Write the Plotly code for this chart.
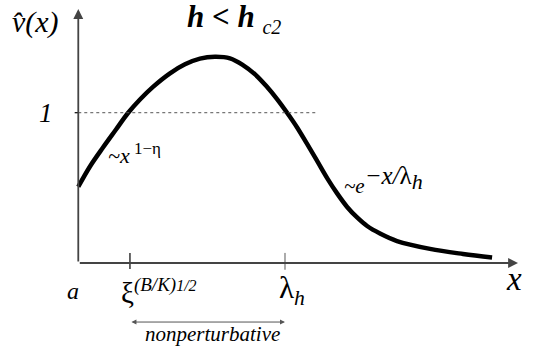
import plotly.graph_objects as go

# Profile of v̂(x): rises like x^(1-eta), peaks, then decays like exp(-x/lambda_h)
curve_x = [0.0, 0.226, 0.478, 0.730, 0.962, 1.194, 1.446, 1.775, 2.065, 2.355, 2.645, 2.935,
           3.187, 3.422, 3.655, 3.847, 4.041, 4.235, 4.428, 4.622, 4.816, 5.009, 5.203,
           5.396, 5.590, 5.839, 6.168, 6.807, 7.446, 8.008]
curve_y = [0.507, 0.642, 0.768, 0.888, 0.998, 1.088, 1.172, 1.262, 1.322, 1.360, 1.372, 1.362,
           1.317, 1.255, 1.171, 1.091, 1.000, 0.902, 0.792, 0.679, 0.565, 0.463, 0.373,
           0.303, 0.246, 0.196, 0.146, 0.094, 0.060, 0.036]

xi_pos = 1.0        # ξ(B/K)^{1/2}
lambda_pos = 4.0    # λ_h
unit_level = 1.0    # v̂ = 1
x_axis_end = 8.51
y_axis_end = 1.69
x_range = [-1.515, 8.80]
y_range = [-0.619, 1.750]

W, H = 533, 356
SERIF = "Liberation Serif"


def px(x):
    return x / W


def py(y):
    return 1 - y / H


fig = go.Figure()
fig.add_trace(go.Scatter(
    x=curve_x, y=curve_y, mode="lines",
    line=dict(color="black", width=4.5, shape="spline", smoothing=1.0),
    hoverinfo="skip", showlegend=False,
))

shapes = [
    # dotted reference level v̂ = 1
    dict(type="line", xref="x", yref="y", x0=0, x1=4.64, y0=unit_level, y1=unit_level,
         line=dict(color="#555", width=1, dash="dot")),
    dict(type="line", xref="x", yref="y", x0=-0.07, x1=0.0, y0=unit_level, y1=unit_level,
         line=dict(color="black", width=1.2)),
    # ticks on the x axis
    dict(type="line", xref="x", yref="y", x0=xi_pos, x1=xi_pos, y0=-0.04, y1=0.067,
         line=dict(color="black", width=1.2)),
    dict(type="line", xref="x", yref="y", x0=lambda_pos, x1=lambda_pos, y0=-0.045, y1=0.067,
         line=dict(color="#aaa", width=2)),
]

annotations = [
    # axes with arrow heads
    dict(x=x_axis_end, y=0, ax=0, ay=0, xref="x", yref="y", axref="x", ayref="y",
         text="", showarrow=True, arrowhead=2, arrowsize=1.1, arrowwidth=1.8, arrowcolor="#444"),
    dict(x=0, y=y_axis_end, ax=0, ay=0, xref="x", yref="y", axref="x", ayref="y",
         text="", showarrow=True, arrowhead=2, arrowsize=1.1, arrowwidth=1.8, arrowcolor="#444"),
    # nonperturbative range
    dict(x=lambda_pos, y=-0.393, ax=xi_pos, ay=-0.393, xref="x", yref="y", axref="x", ayref="y",
         text="", showarrow=True, arrowhead=2, startarrowhead=2, arrowside="end+start",
         arrowsize=1, startarrowsize=1, arrowwidth=1, arrowcolor="#555"),
]


def label(text, x, y, size, xanchor="center"):
    annotations.append(dict(
        text=text, x=px(x), y=py(y), xref="paper", yref="paper",
        xanchor=xanchor, yanchor="middle", showarrow=False,
        font=dict(family=SERIF, size=size, color="black"),
    ))


label("<i>v\u0302(x)</i>", 35, 22, 30)
label("<b><i>h < h</i></b> <i><sub><span style='font-size:20px'>c2</span></sub></i>", 234, 19, 31)
label("<i>1</i>", 46, 113, 27)
label("<i>~x</i><sup><span style='font-size:17px'> 1\u2212\u03b7</span></sup>", 106, 153, 22, xanchor="left")
label("<i>~e</i><sup><span style='font-size:25px'><i>\u2212x/</i>\u03bb"
      "<sub><span style='font-size:22px'><i>h</i></span></sub></span></sup>", 342, 180, 21, xanchor="left")
label("<i>a</i>", 73, 291, 24)
label("\u03be<i><sup><span style='font-size:19px'>(B/K)</span></sup></i>"
      "<i><sup><span style='font-size:16px'>1/2</span></sup></i>", 159, 291, 29)
label("\u03bb<sub><i>h</i></sub>", 292, 290, 31)
label("<i>x</i>", 514, 279, 33)
label("<i>nonperturbative</i>", 212, 334, 21)

fig.update_layout(
    width=W, height=H, margin=dict(l=0, r=0, t=0, b=0),
    paper_bgcolor="white", plot_bgcolor="white",
    xaxis=dict(range=x_range, visible=False, fixedrange=True),
    yaxis=dict(range=y_range, visible=False, fixedrange=True),
    shapes=shapes, annotations=annotations, showlegend=False,
)

fig.write_html("out.html")
